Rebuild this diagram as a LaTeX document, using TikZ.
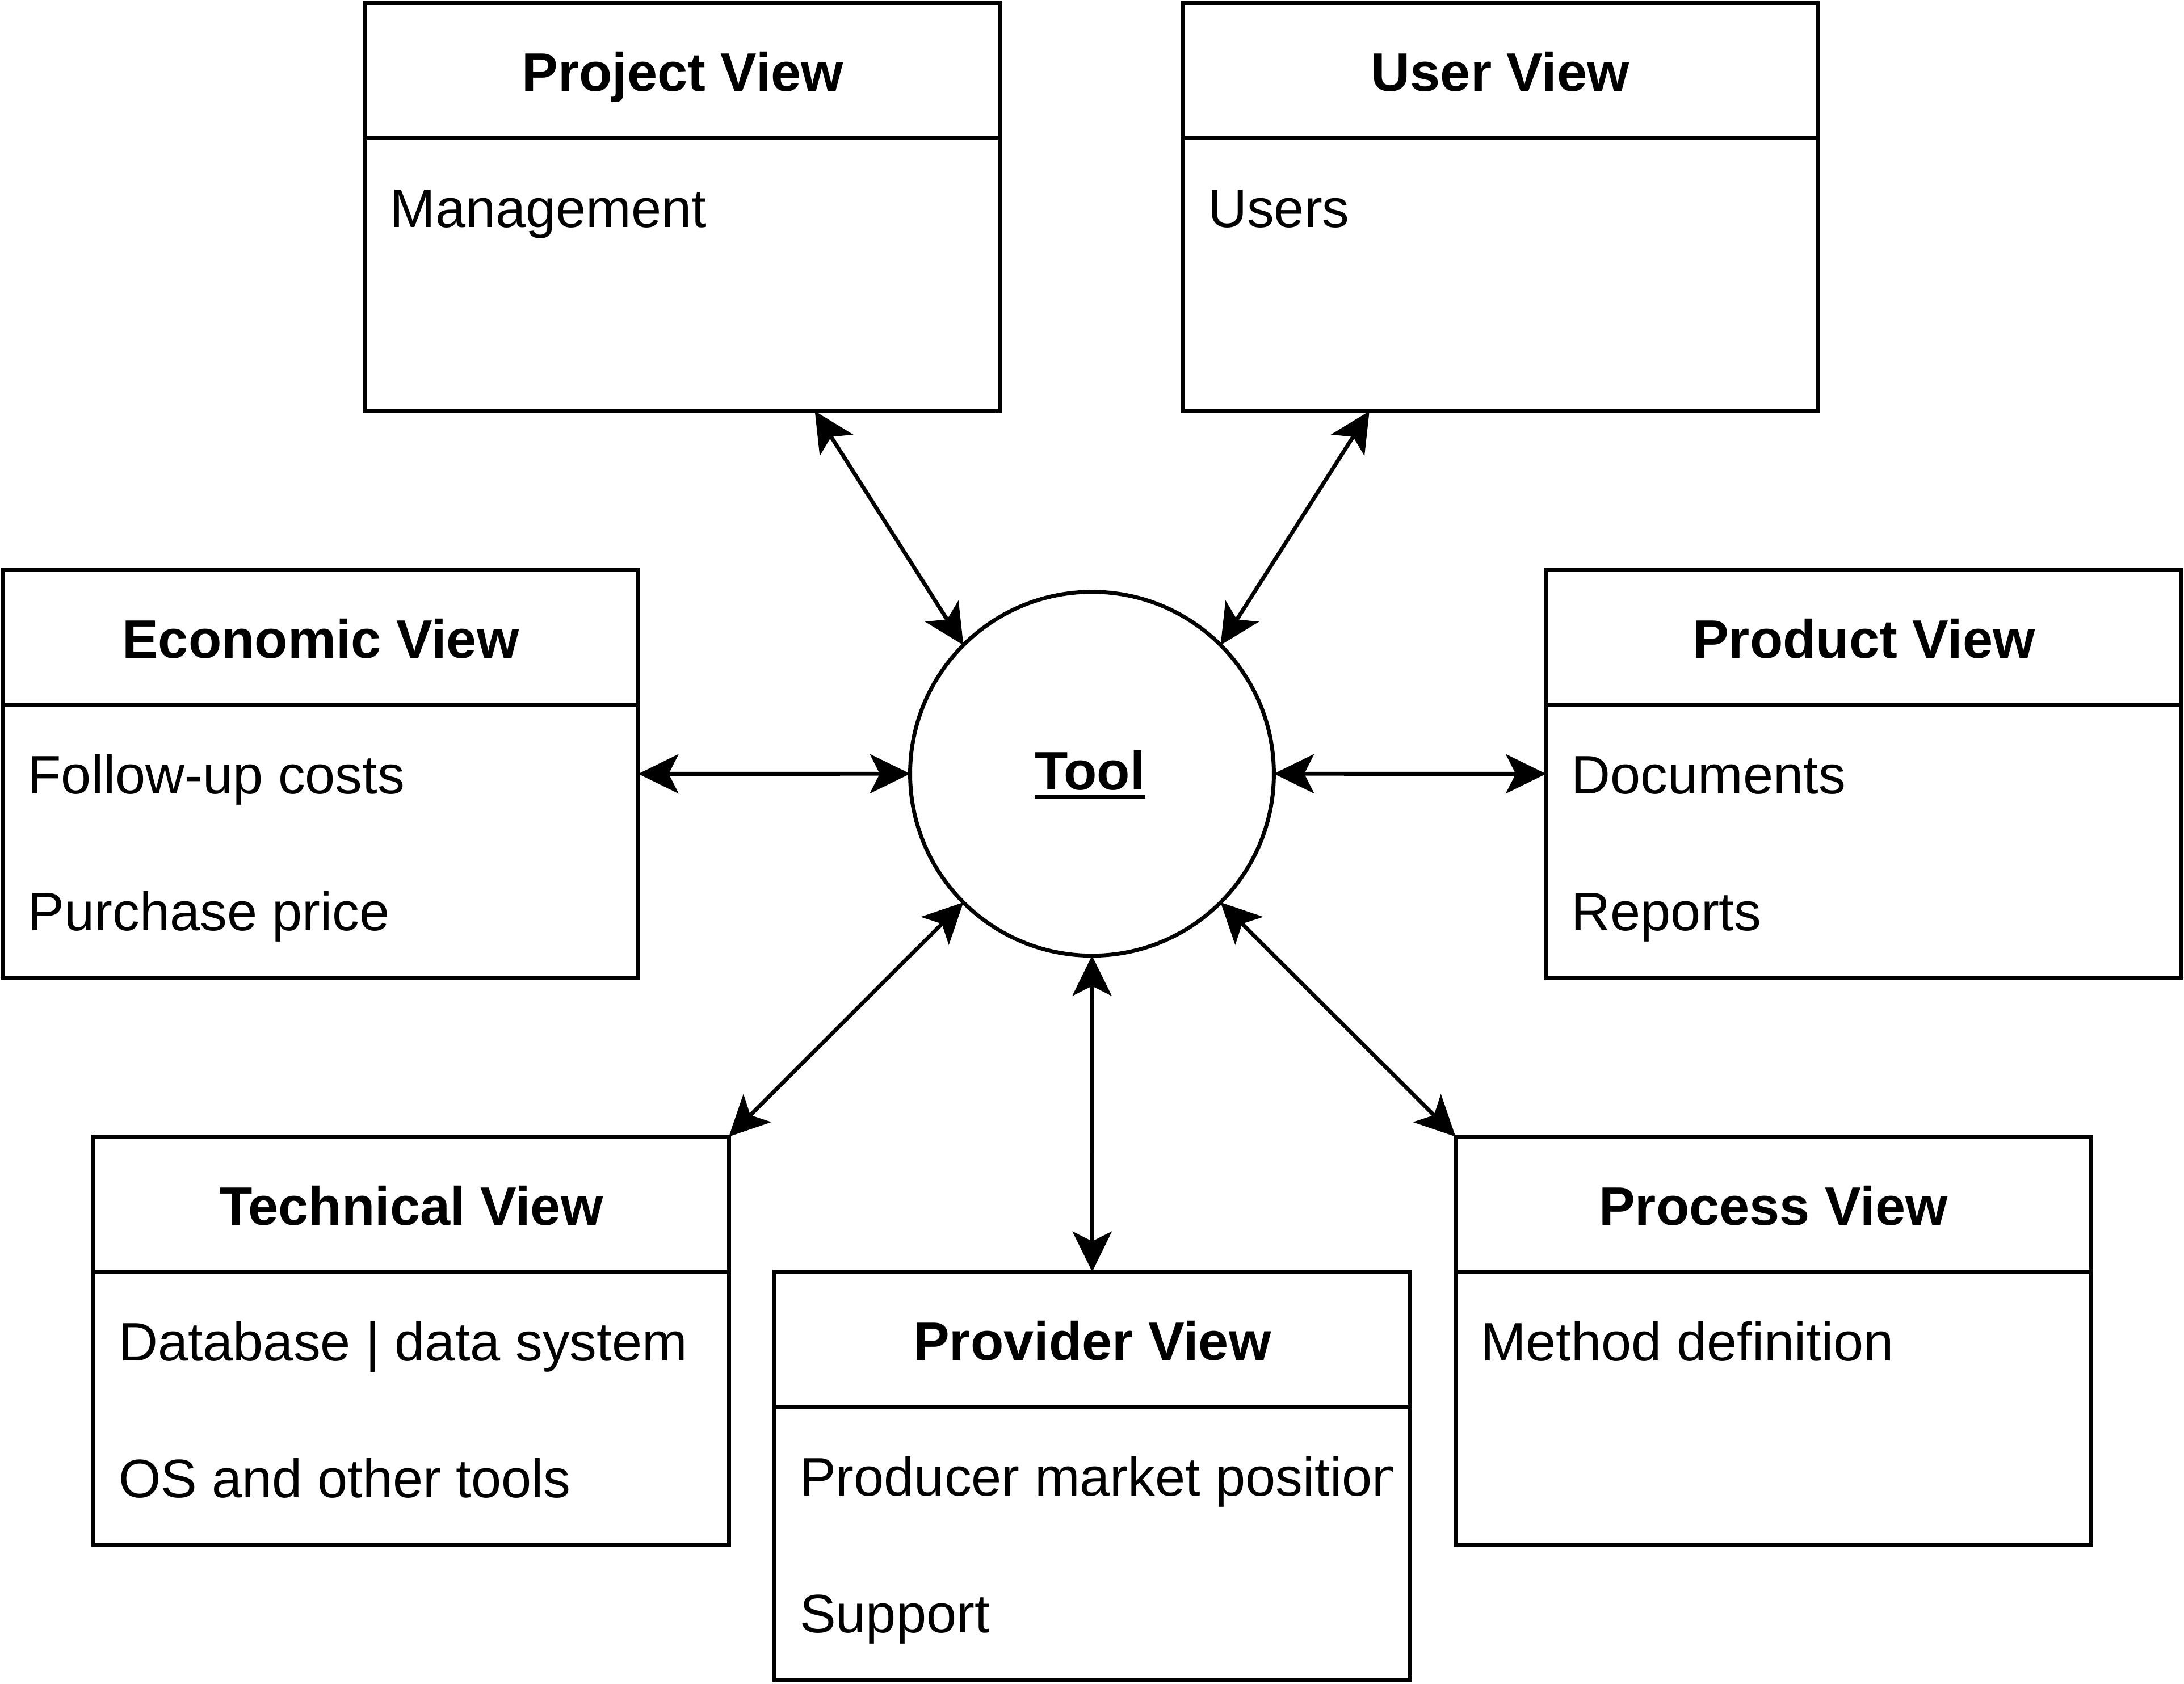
\documentclass[tikz,border=0pt]{standalone}
\usepackage{fontspec}
\setmainfont{Liberation Sans}
\usetikzlibrary{arrows.meta,calc}
\newcommand\ulbold[1]{\setbox0\hbox{#1}\rlap{\rule[-1.85pt]{\wd0}{0.85pt}}\box0}
\newcommand\viewbox[6]{%
  \node[view] (#1) at (#2,#3) {};
  \draw[line width=0.8pt] ([yshift=-0.97cm]#1.north west) -- ([yshift=-0.97cm]#1.north east);
  \node[viewtitle] (#1-title) at ($(#1.north)+(0,63.5)$) {#4};
  \begin{scope}
    \clip ($(#1.north west)+(0,0)$) rectangle ($(#1.south west)+(444,0)$);
    \node[viewitem] (#1-a) at ($(#1.north west)+(17.5,161)$) {#5};
    \node[viewitem] (#1-b) at ($(#1.north west)+(17.5,259)$) {#6};
  \end{scope}
}
\begin{document}
\begin{tikzpicture}[x=0.01cm,y=-0.01cm,
  view/.style={draw, line width=0.8pt, fill=white, minimum width=4.56cm, minimum height=2.93cm,
    inner sep=0pt, outer sep=0pt, anchor=north west},
  viewtitle/.style={font=\fontsize{11.07}{13}\selectfont\bfseries, anchor=base, inner sep=0pt},
  viewitem/.style={font=\fontsize{11.07}{13}\selectfont, anchor=base west, inner sep=0pt},
  toolnode/.style={draw, circle, line width=0.8pt, minimum size=2.61cm, inner sep=0pt, outer sep=0pt},
  link/.style={line width=0.8pt, {Stealth[length=8.2pt,width=8pt,inset=2pt]}-{Stealth[length=8.2pt,width=8pt,inset=2pt]}}
]
\useasboundingbox[fill=white] (0,0) rectangle (1568,1209);

\viewbox{proj}{262}{2}{Project View}{Management}{}
\viewbox{user}{849}{2}{User View}{Users}{}
\viewbox{econ}{2}{409}{Economic View}{Follow-up costs}{Purchase price}
\viewbox{prod}{1110}{409}{Product View}{Documents}{Reports}
\viewbox{tech}{67}{816}{Technical View}{Database | data system}{OS and other tools}
\viewbox{prov}{556}{913}{Provider View}{Producer market position}{Support}
\viewbox{proc}{1045}{816}{Process View}{Method definition}{}

\node[toolnode] (tool) at (784,555.5) {};
\node[viewtitle] (toollabel) at (782.5,567) {\ulbold{Tool}};

\draw[link] ($(proj.south west)!0.708!(proj.south east)$) -- (tool.135);
\draw[link] ($(user.south west)!0.294!(user.south east)$) -- (tool.45);
\draw[link] (econ.east) -- (tool.west);
\draw[link] (tool.east) -- (prod.west);
\draw[link] (tech.north east) -- (tool.225);
\draw[link] (tool.south) -- (prov.north);
\draw[link] (proc.north west) -- (tool.315);
\end{tikzpicture}
\end{document}
